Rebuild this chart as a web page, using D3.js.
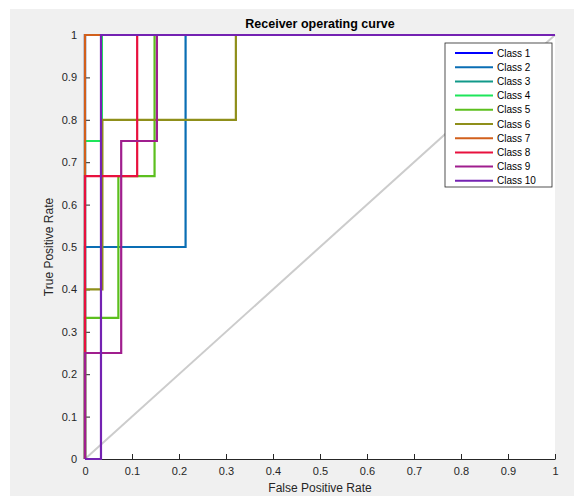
<!DOCTYPE html>
<html>
<head>
<meta charset="utf-8">
<script src="https://cdn.jsdelivr.net/npm/d3@7"></script>
<style>
  body { margin: 0; background: #fff; }
  svg { font-family: "Liberation Sans", Arial, sans-serif; }
  .axis text { font-size: 11px; fill: #262626; }
  .axis path, .axis line { stroke: #262626; }
</style>
</head>
<body>
<svg id="chart"></svg>
<script>
// class names and colours
const classNames = ["Class 1", "Class 2", "Class 3", "Class 4", "Class 5",
  "Class 6", "Class 7", "Class 8", "Class 9", "Class 10"];
const classColors = ["#0000ff", "#0a6eb4", "#12998a", "#1ee65a", "#5cbf1e",
  "#8f8f1a", "#d2601c", "#e8113e", "#a01e8e", "#7422b2"];

// ROC points (false positive rate, true positive rate)
const fpr1 = [0, 0, 1];                 const tpr1 = [0, 1, 1];
const fpr2 = [0, 0, 0.214, 0.214, 1];   const tpr2 = [0, 0.5, 0.5, 1, 1];
const fpr3 = [0, 0, 1];                 const tpr3 = [0, 1, 1];
const fpr4 = [0, 0, 0.036, 0.036, 1];   const tpr4 = [0, 0.75, 0.75, 1, 1];
const fpr5 = [0, 0, 0.071, 0.071, 0.148, 0.148, 1];
const tpr5 = [0, 0.333, 0.333, 0.667, 0.667, 1, 1];
const fpr6 = [0, 0, 0.037, 0.037, 0.321, 0.321, 1];
const tpr6 = [0, 0.4, 0.4, 0.8, 0.8, 1, 1];
const fpr7 = [0, 0, 1];                 const tpr7 = [0, 1, 1];
const fpr8 = [0, 0, 0.111, 0.111, 1];   const tpr8 = [0, 0.667, 0.667, 1, 1];
const fpr9 = [0, 0, 0.077, 0.077, 0.153, 0.153, 1];
const tpr9 = [0, 0.25, 0.25, 0.75, 0.75, 1, 1];
const fpr10 = [0, 0.034, 0.034, 1];     const tpr10 = [0, 0, 1, 1];

const fprs = [fpr1, fpr2, fpr3, fpr4, fpr5, fpr6, fpr7, fpr8, fpr9, fpr10];
const tprs = [tpr1, tpr2, tpr3, tpr4, tpr5, tpr6, tpr7, tpr8, tpr9, tpr10];

const ticks = [0, 0.1, 0.2, 0.3, 0.4, 0.5, 0.6, 0.7, 0.8, 0.9, 1];

const width = 574, height = 496;
const margin = {top: 35, right: 19, bottom: 37, left: 85};
const w = width - margin.left - margin.right;
const h = height - margin.top - margin.bottom;

const svg = d3.select("#chart").attr("width", width).attr("height", height);

// figure background
svg.append("rect").attr("x", 10).attr("y", 9)
  .attr("width", width - 10).attr("height", height - 9)
  .attr("fill", "#f0f0f0");

const chart = svg.append("g")
  .attr("transform", `translate(${margin.left},${margin.top})`);

chart.append("rect").attr("width", w).attr("height", h).attr("fill", "#fff");

const x = d3.scaleLinear().domain([0, 1]).range([0, w]);
const y = d3.scaleLinear().domain([0, 1]).range([h, 0]);

const fmt = d => d === 0 ? "0" : d === 1 ? "1" : d3.format(".1f")(d);

chart.append("g").attr("class", "axis")
  .attr("transform", `translate(0,${h})`)
  .call(d3.axisBottom(x).tickValues(ticks).tickFormat(fmt).tickSizeInner(-5).tickSizeOuter(0).tickPadding(8));

chart.append("g").attr("class", "axis")
  .call(d3.axisLeft(y).tickValues(ticks).tickFormat(fmt).tickSizeInner(-5).tickSizeOuter(0).tickPadding(8));

// chance line
chart.append("line")
  .attr("x1", x(0)).attr("y1", y(0)).attr("x2", x(1)).attr("y2", y(1))
  .attr("stroke", "#cccccc").attr("stroke-width", 2);

const line = d3.line().x(d => x(d[0])).y(d => y(d[1]));

classNames.forEach((name, i) => {
  const pts = fprs[i].map((f, j) => [f, tprs[i][j]]);
  chart.append("path")
    .datum(pts)
    .attr("d", line)
    .attr("fill", "none")
    .attr("stroke", classColors[i])
    .attr("stroke-width", 2.2);
});

// title and labels
svg.append("text")
  .attr("x", margin.left + w / 2).attr("y", 28)
  .attr("text-anchor", "middle")
  .style("font-size", "12.5px").style("font-weight", "bold").attr("fill", "#000")
  .text("Receiver operating curve");

svg.append("text")
  .attr("x", margin.left + w / 2).attr("y", 492)
  .attr("text-anchor", "middle")
  .style("font-size", "12px").attr("fill", "#262626")
  .text("False Positive Rate");

svg.append("text")
  .attr("transform", `translate(53,${margin.top + h / 2}) rotate(-90)`)
  .attr("text-anchor", "middle")
  .style("font-size", "12px").attr("fill", "#262626")
  .text("True Positive Rate");

// legend
const lg = svg.append("g").attr("transform", "translate(445,43)");
lg.append("rect").attr("width", 107).attr("height", 144)
  .attr("fill", "#fff").attr("stroke", "#262626").attr("stroke-width", 0.8);

classNames.forEach((name, i) => {
  const yy = 10 + i * 14.2;
  lg.append("line").attr("x1", 10).attr("x2", 48).attr("y1", yy).attr("y2", yy)
    .attr("stroke", classColors[i]).attr("stroke-width", 2);
  lg.append("text").attr("x", 52).attr("y", yy + 3.5)
    .style("font-size", "10px").attr("fill", "#000").text(name);
});
</script>
</body>
</html>
